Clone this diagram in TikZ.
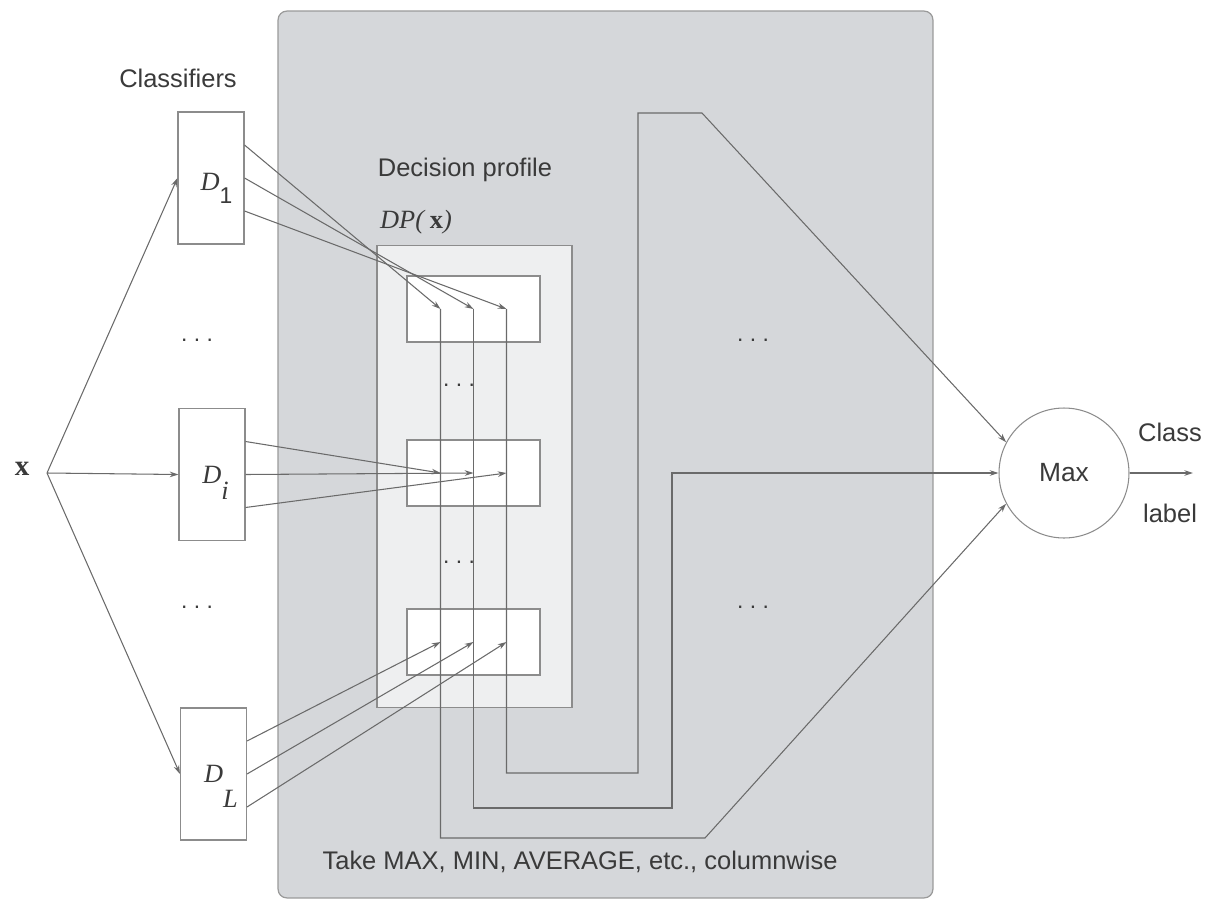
\documentclass[tikz,border=0pt]{standalone}
\usepackage{fontspec}
\setmainfont{Liberation Serif}
\setsansfont{Liberation Sans}
\usetikzlibrary{arrows.meta,calc,positioning}
\definecolor{PanelGray}{HTML}{D5D7DA}
\definecolor{PanelEdge}{HTML}{9A9A9A}
\definecolor{ProfFill}{HTML}{EEEFF0}
\definecolor{BoxEdge}{HTML}{8C8C8C}
\definecolor{LineGray}{HTML}{6A6A6A}
\definecolor{TextGray}{HTML}{3A3A3A}

\begin{document}
\begin{tikzpicture}[x=0.02cm,y=-0.02cm,
    panel/.style={draw=PanelEdge,fill=PanelGray,rounded corners=5pt,line width=0.7pt,
      minimum width=13.1cm,minimum height=17.74cm,inner sep=0pt},
    profbox/.style={draw=BoxEdge,fill=ProfFill,line width=0.6pt,
      minimum width=3.9cm,minimum height=9.26cm,inner sep=0pt},
    rowbox/.style={draw=BoxEdge,fill=white,line width=0.6pt,
      minimum width=2.66cm,minimum height=1.32cm,inner sep=0pt},
    clsbox/.style={draw=BoxEdge,fill=white,line width=0.6pt,
      minimum width=1.32cm,minimum height=2.64cm,inner sep=0pt},
    maxcirc/.style={circle,draw=BoxEdge,fill=white,line width=0.6pt,minimum size=2.6cm,
      inner sep=0pt,text=TextGray,font=\sffamily\fontsize{15}{18}\selectfont},
    sanslabel/.style={font=\sffamily\fontsize{14.5}{17}\selectfont,text=TextGray},
    dlabel/.style={font=\fontsize{15}{18}\selectfont,text=TextGray,inner sep=0pt},
    dotslabel/.style={font=\sffamily\fontsize{13}{15}\selectfont,text=TextGray},
    arrow/.style={-{Stealth[length=5pt,width=3.2pt]},line width=0.6pt,color=LineGray},
    wire/.style={line width=0.6pt,color=LineGray}
  ]
    \useasboundingbox (0,0) rectangle (1207,903);

    % combiner panel and decision profile
    \node[panel] (panel) at (605.5,454.5) {};
    \node[profbox] (dp) at (474.5,476.5) {};
    \node[rowbox] (r1) at (473.5,309) {};
    \node[rowbox] (ri) at (473.5,473) {};
    \node[rowbox] (rL) at (473.5,642) {};

    % classifiers
    \node[clsbox] (d1) at (211,178) {};
    \node[clsbox] (di) at (212,474.5) {};
    \node[clsbox] (dL) at (213.5,774) {};
    \node[dlabel] (d1lab) at (216.5,188) {\textit{D}\raisebox{-7.4pt}{\sffamily\fontsize{13}{15}\selectfont 1}};
    \node[dlabel] (dilab) at (215.5,483) {\textit{D}\raisebox{-9pt}{\textit{i}}};
    \node[dlabel] (dLlab) at (221,786.5) {\textit{D}\raisebox{-14pt}{\textit{L}}};

    \node[maxcirc] (maxnode) at (1064,473) {Max};
    \node[font=\bfseries\fontsize{16.5}{19}\selectfont,text=TextGray] (xlab) at (22,469) {x};
    \coordinate (xin) at (47,473);
    \coordinate (out) at (1193,473);

    % labels
    \node[sanslabel] (clslab) at (178,78) {Classifiers};
    \node[sanslabel] (dplab) at (465,170) {Decision profile};
    \node[font=\fontsize{15}{18}\selectfont,text=TextGray,anchor=west] (dpx) at (374,222)
      {\textit{DP(}\,\textbf{x}\textit{)}};
    \node[sanslabel] (rule) at (580,862) {Take MAX, MIN, AVERAGE, etc., columnwise};
    \node[sanslabel] (cls) at (1170,432) {Class};
    \node[sanslabel] (lab) at (1170,513) {label};

    \node[dotslabel] (dots1) at (197,340) {.\ .\ .};
    \node[dotslabel] (dots2) at (197,607) {.\ .\ .};
    \node[dotslabel] (dots3) at (753,340) {.\ .\ .};
    \node[dotslabel] (dots4) at (753,607) {.\ .\ .};
    \node[dotslabel] (dots5) at (459,385) {.\ .\ .};
    \node[dotslabel] (dots6) at (459,562) {.\ .\ .};

    % input x to the classifiers
    \draw[arrow] (xin) -- (d1.west);
    \draw[arrow] (xin) -- (di.west);
    \draw[arrow] (xin) -- (dL.west);

    % classifier outputs into the rows of DP(x)
    \foreach \cls/\row in {d1/r1,di/ri,dL/rL}
      \foreach \k in {-1,0,1}
        \draw[arrow] ($(\cls.east)+(0,33*\k)$) -- ($(\row.center)+(33*\k,0)$);

    % columnwise combination
    \coordinate (k1) at (705,838);
    \coordinate (k2) at (672,808);
    \coordinate (k3) at (638,773);
    \coordinate (k3top) at (702,113);
    \draw[arrow] ($(r1.center)+(33,0)$) |- (k3) |- (k3top) -- (maxnode.152);
    \draw[arrow] (r1.center) |- (k2) |- (maxnode.west);
    \draw[arrow] ($(r1.center)+(-33,0)$) |- (k1) -- (maxnode.208);
    \draw[arrow] (maxnode.east) -- (out);
  \end{tikzpicture}
\end{document}
